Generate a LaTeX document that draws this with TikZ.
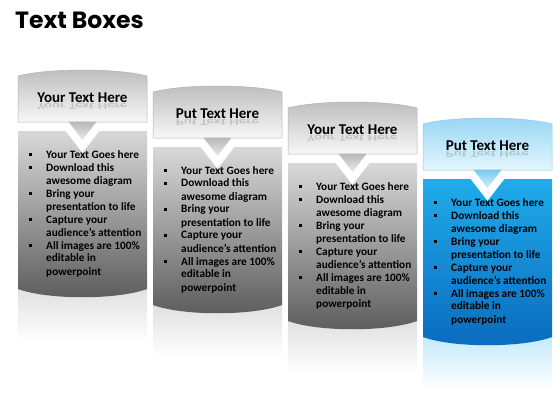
\documentclass[tikz,border=0pt]{standalone}
\usepackage{fontspec}
\setmainfont{Carlito}
\newfontfamily\headfont{Poppins}
\usepackage{tikz}

% colours of the gray and the blue boxes
\definecolor{grayhdtop}{gray}{0.74}
\definecolor{grayhdbot}{gray}{0.97}
\definecolor{grayedge}{gray}{0.70}
\definecolor{graytabtop}{gray}{0.72}
\definecolor{graytabbot}{gray}{0.92}
\definecolor{graybdtop}{gray}{0.85}
\definecolor{graybdbot}{gray}{0.36}
\definecolor{grayrftop}{gray}{0.88}
\definecolor{bluehdtop}{RGB}{150,214,244}
\definecolor{bluehdbot}{RGB}{228,246,253}
\definecolor{blueedge}{RGB}{150,200,225}
\definecolor{bluetabtop}{RGB}{120,202,240}
\definecolor{bluetabbot}{RGB}{205,238,252}
\definecolor{bluebdtop}{RGB}{32,172,234}
\definecolor{bluebdbot}{RGB}{10,106,190}
\definecolor{bluerftop}{RGB}{196,234,252}

\tikzset{
  boxhead/.style={top color=#1hdtop, bottom color=#1hdbot, draw=#1edge, line width=.5pt},
  boxtab/.style={top color=#1tabtop, bottom color=#1tabbot},
  boxbody/.style={top color=#1bdtop, bottom color=#1bdbot},
  boxrefl/.style={top color=#1rftop, bottom color=white},
  headtext/.style={font=\fontsize{15}{15}\selectfont\bfseries, inner sep=0pt},
  listtext/.style={font=\fontsize{11.3}{13}\selectfont\bfseries, inner sep=0pt, anchor=base west}
}

\newcommand{\smallbul}{\raisebox{2.4pt}{\rule{2.5pt}{2.5pt}}}
\newcommand{\listitems}{%
  \begin{tabular}[t]{@{}p{17pt}@{}l@{}}
    \smallbul & Your Text Goes here\\
    \smallbul & Download this\\
              & awesome diagram\\
    \smallbul & Bring your\\
              & presentation to life\\
    \smallbul & Capture your\\
              & audience's attention\\
    \smallbul & All images are 100\%\\
              & editable in\\
              & powerpoint
  \end{tabular}}

\begin{document}
\begin{tikzpicture}[x=1pt, y=-1pt]
    \useasboundingbox (0,0) rectangle (560,420);

    % Title
    \node[anchor=west, inner sep=0pt, font={\headfont\bfseries\fontsize{23.5}{23.5}\selectfont}] (title) at (15,20) {Text Boxes};

    % The four stepped boxes
    \foreach \k/\tone/\ttl in {0/gray/Your Text Here, 1/gray/Put Text Here, 2/gray/Your Text Here, 3/blue/Put Text Here}{
        \pgfmathsetmacro\xl{18+135*\k}
        \pgfmathsetmacro\xr{\xl+129}
        \pgfmathsetmacro\xc{\xl+64.5}
        \pgfmathsetmacro\yt{76+16*\k}
        \pgfmathsetmacro\yh{\yt+46}
        \pgfmathsetmacro\yb{\yh+9}
        \pgfmathsetmacro\ye{289+16*\k}

        % reflection under the body
        \path[boxrefl=\tone] (\xl,\ye) rectangle (\xr,\ye+52);

        % body with the notch and the rounded bottom
        \path[boxbody=\tone] (\xl,\yb) -- (\xc-17,\yb) -- (\xc,\yh+31) -- (\xc+17,\yb) -- (\xr,\yb)
            -- (\xr,\ye) .. controls (\xr-30,\ye+11) and (\xl+30,\ye+11) .. (\xl,\ye) -- cycle;

        % header with the curved top
        \path[boxhead=\tone] (\xl,\yh) -- (\xr,\yh) -- (\xr,\yt)
            .. controls (\xr-30,\yt-8) and (\xl+30,\yt-8) .. (\xl,\yt) -- cycle;
        \path[boxtab=\tone] (\xc-14,\yh-0.3) -- (\xc,\yh+18) -- (\xc+14,\yh-0.3) -- cycle;

        % texts
        \node[headtext] (head\k) at (\xc,\yt+22) {\ttl};
        \node[headtext, anchor=base, opacity=.15, yscale=-.6, transform shape] (shade\k) at (\xc,\yt+27.5) {\ttl};
        \node[listtext] (list\k) at (\xl+11,\yb+27) {\listitems};
    }
\end{tikzpicture}
\end{document}
